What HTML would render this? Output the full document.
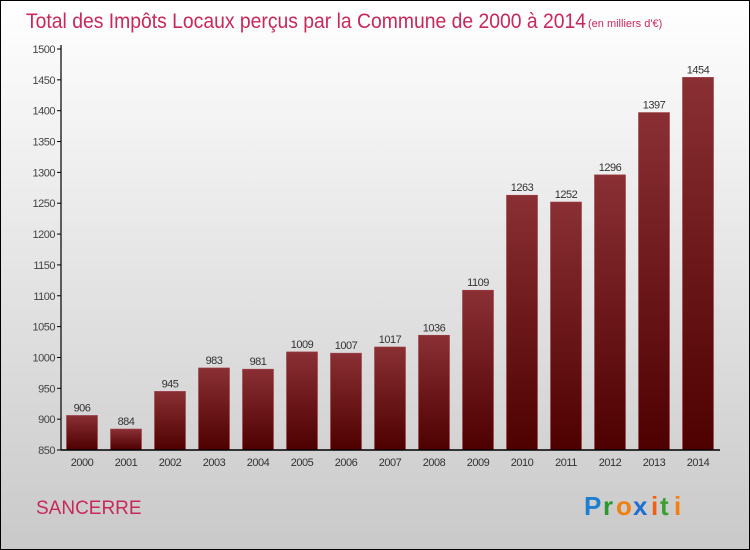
<!DOCTYPE html>
<html><head><meta charset="utf-8"><style>
html,body{margin:0;padding:0;width:750px;height:550px;overflow:hidden}
svg text{font-family:"Liberation Sans",sans-serif}
</style></head><body>
<svg id="chart" width="750" height="550" xmlns="http://www.w3.org/2000/svg">
<defs>
<linearGradient id="bg" x1="0" y1="0" x2="0" y2="1"><stop offset="0" stop-color="#ffffff"/><stop offset="1" stop-color="#c9c9c9"/></linearGradient>
<linearGradient id="bar" x1="0" y1="0" x2="0" y2="1"><stop offset="0" stop-color="#8a3035"/><stop offset="1" stop-color="#4e0000"/></linearGradient>
</defs>
<rect x="0.5" y="0.5" width="749" height="549" fill="url(#bg)" stroke="#000" stroke-width="1"/>
<text x="26" y="28" font-size="21" fill="#c8285a" textLength="560" lengthAdjust="spacingAndGlyphs">Total des Impôts Locaux perçus par la Commune de 2000 à 2014</text>
<text x="588" y="27" font-size="11" fill="#c8285a">(en milliers d'€)</text>
<g id="plot"></g>
<text x="36" y="514" font-size="19" fill="#c8285a">SANCERRE</text>
<g font-size="26" font-weight="bold">
<text x="584" y="515" fill="#1e7fd0">P</text><text x="603" y="515" fill="#2a9a30">r</text><text x="616" y="515" fill="#f08010">o</text><text x="633" y="515" fill="#1e6fd0">x</text><text x="651" y="515" fill="#f06010">i</text><text x="660" y="515" fill="#3aa030">t</text><text x="674" y="515" fill="#f08010">i</text>
</g>
</svg>
<script>
const years=["2000","2001","2002","2003","2004","2005","2006","2007","2008","2009","2010","2011","2012","2013","2014"];
const values=[906,884,945,983,981,1009,1007,1017,1036,1109,1263,1252,1296,1397,1454];
const yTicks=[850,900,950,1000,1050,1100,1150,1200,1250,1300,1350,1400,1450,1500];
const NS="http://www.w3.org/2000/svg";
const g=document.getElementById('plot');
const y0=450,y1=49,vMin=850,vMax=1500;
function yScale(v){return y0-(v-vMin)/(vMax-vMin)*(y0-y1);}
function xScale(i){return 82+i*44;}
function mk(t,a,txt){const e=document.createElementNS(NS,t);for(const k in a)e.setAttribute(k,a[k]);if(txt!==undefined)e.textContent=txt;g.appendChild(e);return e;}
yTicks.forEach(v=>{
 const y=yScale(v);
 const t=mk('line',{x1:57,x2:61,y1:y,y2:y,stroke:'#000'});
 
 
 const l=mk('text',{x:55,y:y+4,'font-size':11,fill:'#444','text-anchor':'end','letter-spacing':'-0.5'},v);
 
 
});
values.forEach((v,i)=>{
 const cx=xScale(i),y=yScale(v);
 const r=mk('rect',{x:cx-15.5,y:y,width:31,height:y0-y,fill:'url(#bar)',stroke:'#a04048','stroke-width':0.6});
 
 
 const vl=mk('text',{x:cx,y:y-4,'font-size':11,fill:'#333','text-anchor':'middle','letter-spacing':'-0.5'},v);
 
 
 const xl=mk('text',{x:cx,y:466,'font-size':11,fill:'#333','text-anchor':'middle','letter-spacing':'-0.5'},years[i]);
 
 
});
const ya=mk('line',{x1:61,x2:61,y1:45,y2:450,stroke:'#000','stroke-width':1.2});


const xa=mk('line',{x1:61,x2:720,y1:450,y2:450,stroke:'#000','stroke-width':1.5});


</script>
</body></html>
